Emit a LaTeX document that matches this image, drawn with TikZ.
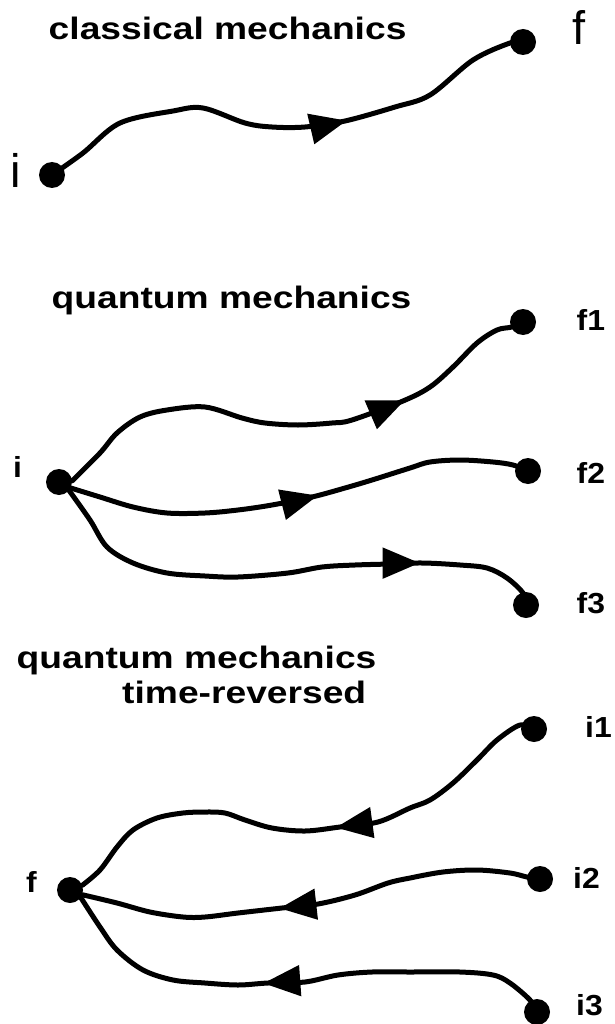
\documentclass[tikz,border=0pt]{standalone}
\usepackage{fontspec}
\setmainfont{Liberation Sans}
\usetikzlibrary{decorations.markings,arrows.meta}
\begin{document}
\begin{tikzpicture}[x=1pt,y=-1pt,
  dot/.style={circle,fill=black,inner sep=0pt,minimum size=26pt},
  wline/.style={line width=5pt,line join=round,line cap=round},
  title/.style={font=\bfseries\fontsize{31}{37}\selectfont,xscale=1.2,anchor=base west,inner sep=0pt},
  blab/.style={font=\bfseries\fontsize{29}{33}\selectfont,xscale=1.1,anchor=base west,inner sep=0pt},
  rlab/.style={font=\fontsize{47}{52}\selectfont,anchor=base west,inner sep=0pt},
  arrowat/.style={postaction={decorate},decoration={markings,
     mark=at position #1 with {\arrow{Triangle[length=37pt,width=30pt]}}}}]
\useasboundingbox (0,0) rectangle (614,1024);

% ---------- classical mechanics ----------
\node[title] (t1) at (48.5,40) {classical mechanics};
\node[dot] (ci) at (52,175) {};
\node[dot] (cf) at (523,42) {};
\node[rlab] (lci) at (10,188) {i};
\node[rlab] (lcf) at (572,45) {f};
\draw[wline,arrowat=318pt] plot[smooth,tension=0.55] coordinates {(ci.center) (83,153) (120,123) (173,111) (203,108) (245,123) (272,127) (305,127) (345,121) (395,107) (430,95) (473,60) (510,43) (cf.center)};

% ---------- quantum mechanics ----------
\node[title] (t2) at (51.5,308) {quantum mechanics};
\node[dot] (qi) at (59,482) {};
\node[dot] (qf1) at (523,322) {};
\node[dot] (qf2) at (528,471) {};
\node[dot] (qf3) at (526,605) {};
\node[blab] (lqi) at (13,477) {i};
\node[blab] (lqf1) at (576.5,330) {f1};
\node[blab] (lqf2) at (576.5,483) {f2};
\node[blab] (lqf3) at (576.5,613) {f3};
\draw[wline,arrowat=366pt] plot[smooth,tension=0.55] coordinates {(qi.5) (100,453) (117,433) (140,417) (167,410) (205,407) (242,418) (265,423) (298,425) (332,423) (352,420) (403,401) (430,387) (453,367) (477,343) (497,330) (512,327) (qf1.center)};
\draw[wline,arrowat=252pt] plot[smooth,tension=0.55] coordinates {(qi.-27) (100,497) (133,507) (167,513) (205,513) (238,510) (272,505) (312,497) (345,488) (372,480) (410,468) (430,462) (460,460) (493,462) (513,465) (qf2.center)};
\draw[wline,arrowat=388pt] plot[smooth,tension=0.55] coordinates {(qi.-40) (90,520) (107,547) (133,563) (167,573) (205,576) (238,577) (288,573) (322,567) (355,565) (390,564) (423,563) (460,565) (487,568) (507,578) (523,593) (qf3.center)};

% ---------- time-reversed ----------
\node[title] (t3) at (16.5,668) {quantum mechanics};
\node[title] (t4) at (122,703) {time-reversed};
\node[dot] (rf) at (70,890) {};
\node[dot] (ri1) at (534,729) {};
\node[dot] (ri2) at (540,879) {};
\node[dot] (ri3) at (537,1012) {};
\node[blab] (lrf) at (26,892) {f};
\node[blab] (lri1) at (585,737) {i1};
\node[blab] (lri2) at (573,888) {i2};
\node[blab] (lri3) at (576,1015) {i3};
\draw[wline,arrowat=232pt] plot[smooth,tension=0.55] coordinates {(ri1.center) (520,725) (497,740) (477,760) (453,783) (430,800) (410,808) (378,822) (340,827) (305,831) (272,828) (245,820) (225,813) (205,812) (183,813) (157,818) (133,830) (117,847) (100,870) (rf.21)};
\draw[wline,arrowat=266pt] plot[smooth,tension=0.55] coordinates {(ri2.center) (527,877) (510,873) (477,870) (443,872) (410,878) (388,883) (355,895) (318,904) (282,908) (238,913) (205,917) (183,917) (150,912) (117,903) (rf.-21)};
\draw[wline,arrowat=290pt] plot[smooth,tension=0.55] coordinates {(ri3.center) (530,1000) (510,983) (493,975) (460,972) (410,972) (372,972) (338,975) (305,982) (268,983) (238,985) (205,983) (173,980) (143,970) (117,950) (100,927) (rf.-35)};
\end{tikzpicture}
\end{document}
